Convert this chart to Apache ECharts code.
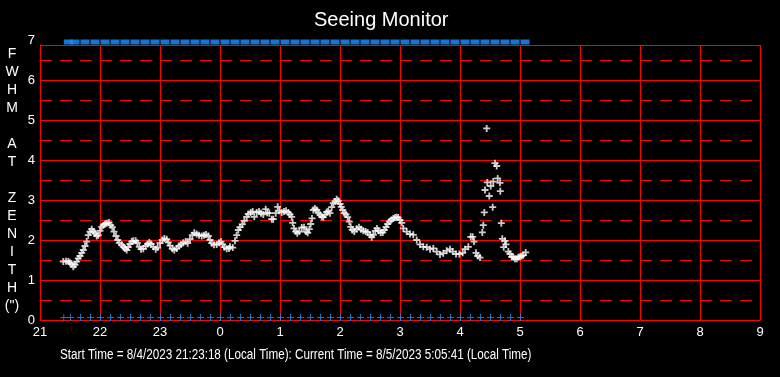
<!DOCTYPE html>
<html><head><meta charset="utf-8">
<script src="https://cdn.jsdelivr.net/npm/echarts@6/dist/echarts.min.js"></script>
<style>html,body{margin:0;padding:0;background:#000;}#c{width:780px;height:377px;}</style>
</head><body><div id="c"></div>
<script>
// ---- text ----
const titleText = 'Seeing Monitor';
const yTitleLines = ['F','W','H','M','','A','T','','Z','E','N','I','T','H','(")'];
const caption = 'Start Time = 8/4/2023 21:23:18 (Local Time): Current Time = 8/5/2023 5:05:41 (Local Time)';

// ---- axes ----
const xStartHour = 21, xEndHour = 33;   // 21:00 .. 09:00 next day
const yMin = 0, yMax = 7;               // labelled range
const plotTopValue = 6.875;             // the red plot frame stops just below 7

// ---- FWHM observations: minutes after 21:00, value in arcsec ----
const obsMinutes = [
  23.3, 26, 28.3, 30, 31.7, 33.3, 35, 36.7, 38.3, 40,
  41.7, 43.3, 45, 46.7, 48.3, 50, 51.7, 53.3, 55, 56.7,
  58.3, 60, 61.7, 63.3, 65, 66.7, 69, 70.7, 72.3, 74,
  76, 77.7, 79.3, 81.7, 83.3, 85, 86.7, 88.3, 90, 91.7,
  93.3, 95.7, 97.3, 99.3, 101, 103.3, 105.7, 107.7, 109.3, 111,
  113.3, 115.7, 117.7, 120, 122.3, 124.3, 126.7, 128.3, 130, 132.3,
  134.3, 136.7, 139, 141, 143.3, 145.7, 147.7, 150, 152.3, 154.3,
  156.7, 159, 161.7, 164, 166, 168.3, 170, 171.7, 174, 176.7,
  179, 181, 182.7, 184.3, 186.7, 189,
  190, 192.7, 195, 196.7, 198.3, 200, 202.3, 204.3, 206.7, 208.3,
  210.7, 212.7, 214.3, 216.7, 219, 221, 223.3, 225.7, 227.3, 229.3,
  231.7, 233.3, 235.7, 237.7, 239.3, 241.7, 244, 246, 248.3, 250,
  251.7, 252.7, 254, 255.7, 257.3, 259.3, 261.7, 264, 266, 267.7,
  269.3, 270.7, 272, 273.3, 275, 276.7, 278.3, 280, 281.7, 283.3,
  285, 286.7, 288.3, 290, 291.7, 293.3, 295, 296.7, 298.3, 300,
  301.3, 302.7, 304.3, 306, 307.7, 309.3, 310.7, 312.3, 314.3, 316.7,
  319, 321, 323.3, 325.7, 327.7, 330, 331.7, 333.3, 335.3, 337,
  338.7, 340.7, 342.7, 344.3, 346, 347.7, 349.3, 351.3, 353.3, 355,
  356.7, 358.3, 360, 361.7,
  363.3, 366.7, 370, 373.3, 376.7, 380, 383.3, 386.7, 390, 393.3,
  396.7, 400, 403.3, 406.7, 410, 412.7, 416, 419.3, 422.7, 425,
  428.3, 430.7, 432.7, 434, 436, 437.7, 440,
  442.3, 443.3, 444.3, 445, 446.7, 447.3, 449.3, 450.7, 452.7, 453.3,
  455, 456.7, 457.7, 460, 460.3, 461.3, 462.3, 463.7, 465, 466,
  468.3, 470, 471.7, 473.3, 475, 476.7, 478.3, 480, 481.7, 483.3,
  485.7
];
const obsFwhm = [
  1.46, 1.47, 1.46, 1.43, 1.40, 1.33, 1.38, 1.46, 1.54, 1.60,
  1.68, 1.75, 1.85, 1.96, 2.12, 2.21, 2.27, 2.21, 2.17, 2.10,
  2.12, 2.23, 2.33, 2.37, 2.40, 2.42, 2.44, 2.37, 2.32, 2.21,
  2.10, 2.00, 1.93, 1.88, 1.83, 1.79, 1.75, 1.82, 1.90, 1.96,
  1.98, 1.98, 1.93, 1.83, 1.77, 1.78, 1.85, 1.90, 1.94, 1.90,
  1.83, 1.77, 1.81, 1.92, 2.00, 2.04, 2.02, 1.94, 1.86, 1.78,
  1.75, 1.79, 1.85, 1.89, 1.93, 1.96, 1.92, 2.02, 2.12, 2.18,
  2.15, 2.12, 2.10, 2.12, 2.14, 2.10, 2.00, 1.92, 1.88, 1.89,
  1.93, 1.96, 1.89, 1.82, 1.78, 1.79,
  1.83, 1.81, 1.98, 2.12, 2.25, 2.32, 2.39, 2.48, 2.58, 2.65,
  2.69, 2.71, 2.58, 2.69, 2.71, 2.67, 2.64, 2.77, 2.68, 2.67,
  2.52, 2.52, 2.67, 2.83, 2.73, 2.69, 2.71, 2.73, 2.69, 2.64,
  2.58, 2.43, 2.29, 2.21, 2.17, 2.21, 2.31, 2.32, 2.21, 2.18,
  2.27, 2.40, 2.54, 2.75, 2.79, 2.75, 2.68, 2.63, 2.58, 2.57,
  2.63, 2.70, 2.72, 2.67, 2.82, 2.92, 2.96, 3.02, 2.98, 2.90,
  2.83, 2.75, 2.67, 2.64, 2.57, 2.46, 2.33, 2.25, 2.21, 2.28,
  2.32, 2.27, 2.23, 2.21, 2.19, 2.13, 2.07, 2.13, 2.23, 2.29,
  2.23, 2.18, 2.19, 2.25, 2.32, 2.40, 2.46, 2.50, 2.54, 2.56,
  2.57, 2.56, 2.50, 2.43,
  2.29, 2.21, 2.15, 2.13, 2.00, 1.89, 1.83, 1.82, 1.77, 1.79,
  1.71, 1.64, 1.67, 1.73, 1.77, 1.71, 1.65, 1.65, 1.68, 1.77,
  1.83, 2.08, 2.08, 1.96, 1.68, 1.60, 1.56,
  2.19, 2.37, 2.69, 3.25, 4.79, 3.44, 3.10, 3.35, 2.82, 3.46,
  3.92, 3.85, 3.54, 3.43, 3.22, 2.42, 2.03, 1.82, 1.98, 1.89,
  1.71, 1.65, 1.58, 1.57, 1.53, 1.53, 1.57, 1.58, 1.60, 1.62,
  1.69
];

// ---- status flags (blue marks), minutes after 21:00 ----
const flagMinutes = [
  23.3, 30, 40, 50, 60, 70, 80, 90, 100, 110, 120, 130, 140, 150, 160, 170,
  180, 190, 200, 210, 220, 230, 240, 250, 260, 270, 280, 290, 300, 310, 320,
  330, 340, 350, 360, 370, 380, 390, 400, 410, 420, 430, 440, 450, 460, 470, 480
];

const toHour = m => xStartHour + m / 60;
const plusBold = 'path://M2.6,0L4.4,0L4.4,2.6L7,2.6L7,4.4L4.4,4.4L4.4,7L2.6,7L2.6,4.4L0,4.4L0,2.6L2.6,2.6Z';
const plusThin = 'path://M3,0L4,0L4,3L7,3L7,4L4,4L4,7L3,7L3,4L0,4L0,3L3,3Z';
const RED = '#ff0000', BLUE = '#1e90ff';
const FONT = "'Liberation Sans', Arial, sans-serif";

const chart = echarts.init(document.getElementById('c'), null, {renderer: 'canvas'});
chart.setOption({
  backgroundColor: '#000',
  animation: false,
  title: {
    text: titleText, left: 314, top: 10, padding: 0,
    textStyle: {color: '#fff', fontSize: 20, fontWeight: 'normal', fontFamily: FONT}
  },
  grid: [
    {left: 40, right: 20, top: 45, bottom: 57},   // plot frame (0 .. 6.875)
    {left: 40, right: 20, top: 40, bottom: 57}    // label scale (0 .. 7)
  ],
  xAxis: [{
    gridIndex: 0, type: 'value', min: xStartHour, max: xEndHour, interval: 1,
    axisLine: {lineStyle: {color: RED, width: 1}},
    axisTick: {show: false},
    axisLabel: {color: '#fff', fontSize: 13, fontFamily: FONT, margin: 6,
      formatter: v => String(v % 24)},
    splitLine: {show: true, lineStyle: {color: RED, width: 1}}
  }, {
    gridIndex: 1, type: 'value', min: xStartHour, max: xEndHour, show: false
  }],
  yAxis: [{
    gridIndex: 0, type: 'value', min: yMin, max: plotTopValue, interval: 1,
    axisLine: {show: true, lineStyle: {color: RED, width: 1}},
    axisTick: {show: false}, axisLabel: {show: false},
    splitLine: {show: true, lineStyle: {color: RED, width: 1}}
  }, {
    gridIndex: 0, type: 'value', min: yMin, max: plotTopValue, interval: 0.5, position: 'left',
    axisLine: {show: false}, axisTick: {show: false}, axisLabel: {show: false},
    splitLine: {show: true, lineStyle: {color: ['rgba(0,0,0,0)', RED], width: 1, type: [12, 8]}}
  }, {
    gridIndex: 1, type: 'value', min: yMin, max: yMax, interval: 1,
    name: yTitleLines.join('\n'), nameLocation: 'middle', nameGap: 28, nameRotate: 0,
    nameTextStyle: {color: '#fff', fontSize: 14, lineHeight: 18, fontFamily: FONT,
      align: 'center', verticalAlign: 'middle'},
    axisLine: {show: false}, axisTick: {show: false}, splitLine: {show: false},
    axisLabel: {color: '#fff', fontSize: 13, fontFamily: FONT, margin: 5}
  }],
  series: [{
    name: 'FWHM', type: 'scatter', xAxisIndex: 0, yAxisIndex: 0,
    symbol: plusBold, symbolSize: 7,
    itemStyle: {color: '#fff'},
    data: obsMinutes.map((m, i) => [toHour(m), obsFwhm[i]]),
    z: 3
  }, {
    name: 'flagLow', type: 'scatter', xAxisIndex: 0, yAxisIndex: 0, clip: false,
    symbol: plusThin, symbolSize: 7, symbolOffset: [0.5, -2.5],
    itemStyle: {color: BLUE},
    data: flagMinutes.map(m => [toHour(m), yMin]),
    z: 4
  }, {
    name: 'flagHigh', type: 'scatter', xAxisIndex: 1, yAxisIndex: 2, clip: false,
    symbol: 'rect', symbolSize: [9, 5], symbolOffset: [5, 2],
    itemStyle: {color: BLUE},
    data: flagMinutes.map(m => [toHour(m), yMax]),
    z: 4
  }],
  graphic: [{
    type: 'text', x: 60, y: 355, scaleX: 0.834,
    style: {text: caption, fill: '#fff', fontSize: 14, fontFamily: FONT,
      align: 'left', verticalAlign: 'middle'}
  }]
});
</script></body></html>
